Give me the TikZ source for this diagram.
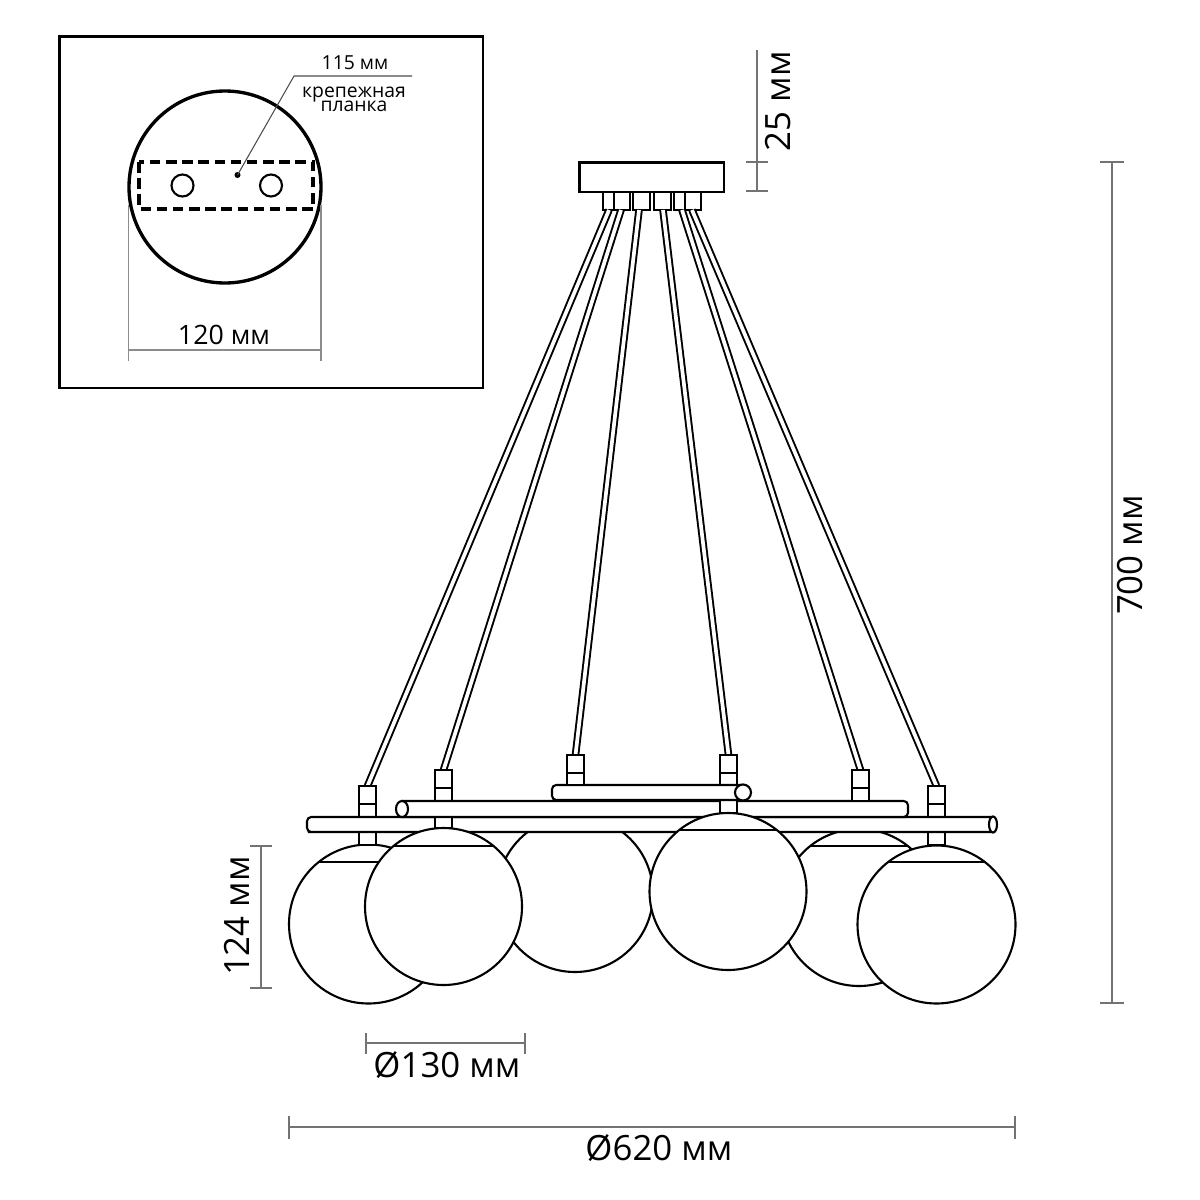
\documentclass[tikz,border=0pt]{standalone}
\usepackage{fontspec}
\setmainfont{Open Sans}
\tikzset{
  part/.style={draw=black,fill=white,line width=0.6pt},
  thick part/.style={draw=black,fill=white,line width=0.95pt},
  rod/.style={draw=black,line width=0.55pt,double=white,double distance=1.05pt},
  dim/.style={draw=black!55,line width=0.42pt},
  big label/.style={font=\fontsize{9.9}{11}\selectfont,inner sep=0pt},
  small label/.style={font=\fontsize{5.5}{5}\selectfont,inner sep=0pt,align=center}
}
% lamp holder: x centre, top, joint, bottom
\newcommand{\holder}[4]{
  \draw[part] (#1-8.5,#3) rectangle (#1+8.5,#4);
  \draw[part] (#1-8.5,#2) rectangle (#1+8.5,#3);
}
% glass ball with the chord of its cap
\newcommand{\ball}[4]{
  \draw[part] (#1,#2) circle [radius=#3];
  \draw[line width=0.6pt] ({#1-sqrt(#3*#3-(#4-#2)*(#4-#2))},#4) -- ({#1+sqrt(#3*#3-(#4-#2)*(#4-#2))},#4);
}
\begin{document}
\begin{tikzpicture}[x=0.01cm,y=-0.01cm]
\useasboundingbox (0,0) rectangle (1200,1200);
% inset with the mounting plate
\draw[line width=0.75pt] (59.5,36.5) rectangle (483,388);
\draw[thick part] (225,187) circle [radius=96];
\draw[line width=1pt,dash pattern=on 3pt off 1.6pt] (139,162) rectangle (313,209);
\draw[line width=0.6pt] (182.5,185.5) circle [radius=11];
\draw[line width=0.6pt] (271,185.5) circle [radius=11];
\coordinate (platemid) at (237.5,175);
\coordinate (leaderbend) at (294,76);
\coordinate (leaderend) at (412,76);
\fill (platemid) circle [radius=3];
\draw[line width=0.3pt,draw=black!70] (platemid) -- (leaderbend) -- (leaderend);
\node[small label] (platelen) at (355,63) {115 мм};
\node[small label] (platename) at (354,99.5) {крепежная\\[-0.85pt]планка};
\draw[dim,draw=black!45] (128.5,205) -- (128.5,361);
\draw[dim,draw=black!45] (321,205) -- (321,361);
\draw[dim,draw=black!45] (128.5,350) -- (321,350);
\node[inner sep=0pt,font=\fontsize{7.6}{9}\selectfont] (platewidth) at (224,335) {120 мм};
% canopy
\foreach \xa/\xb in {603/614, 614/630, 633/650, 654/671, 674/685, 685/701}
\draw[part] (\xa,192) rectangle (\xb,210);
\draw[line width=0.75pt,fill=white] (579.5,162.5) rectangle (724,192);
% rods
\foreach \n/\xa/\xb/\yb in {1/609/367.5/786, 2/621/443.5/770, 3/639/575.5/755, 4/663/728.5/755, 5/682/860.5/770, 6/692/936.5/786}{
\coordinate (top\n) at (\xa,210);
\coordinate (lamp\n) at (\xb,\yb);
\draw[rod] (top\n) -- (lamp\n);
}
% balls behind the tubes
\ball{575}{894}{78}{832}
\ball{859}{907.5}{78.5}{846}
\ball{368.5}{924}{79.5}{862}
\ball{936.5}{924.5}{79}{862}
\holder{367.5}{786}{804}{845}
\holder{936.5}{786}{804}{845}
% tubes
\draw[part] (312,817) [rounded corners=1.2pt] -- (307,817) -- (307,832) -- (312,832) [sharp corners] -- (993,832) -- (993,817) -- cycle;
\draw[part] (993,824.5) ellipse [x radius=4,y radius=8];
\holder{443.5}{770}{788}{828}
\draw[part] (402,801) -- (902,801) [rounded corners=1.2pt] -- (908,801) -- (908,817) -- (902,817) [sharp corners] -- (402,817) -- cycle;
\draw[part] (402,809) ellipse [x radius=6,y radius=8];
\holder{860.5}{770}{788}{801}
\holder{728.5}{755}{773}{813}
\draw[part] (743,785) -- (558,785) [rounded corners=1.2pt] -- (552,785) -- (552,800) -- (558,800) [sharp corners] -- (743,800) -- cycle;
\draw[part] (743,792.5) circle [radius=8];
\holder{575.5}{755}{773}{785}
% front balls
\ball{443.5}{906.5}{78.5}{846}
\ball{728}{891.5}{78.5}{830}
% dimensions
\draw[dim] (757,50) -- (757,191);
\draw[dim] (746,162) -- (768,162);
\draw[dim] (746,191) -- (768,191);
\node[big label,rotate=90] (canopyh) at (778,101) {25 мм};
\draw[dim] (1112,162) -- (1112,1003);
\draw[dim] (1100,162) -- (1124,162);
\draw[dim] (1100,1003) -- (1124,1003);
\node[big label,rotate=90] (totalh) at (1130,555) {700 мм};
\draw[dim] (261,846) -- (261,988);
\draw[dim] (250,846) -- (272,846);
\draw[dim] (250,988) -- (272,988);
\node[big label,rotate=90] (ballh) at (237,916) {124 мм};
\draw[dim] (366,1043) -- (525,1043);
\draw[dim] (366,1033) -- (366,1054);
\draw[dim] (525,1033) -- (525,1054);
\node[big label] (balld) at (447,1065) {Ø130 мм};
\draw[dim] (289,1127) -- (1015,1127);
\draw[dim] (289,1116) -- (289,1139);
\draw[dim] (1015,1116) -- (1015,1139);
\node[big label] (totald) at (659,1148) {Ø620 мм};
\end{tikzpicture}
\end{document}
